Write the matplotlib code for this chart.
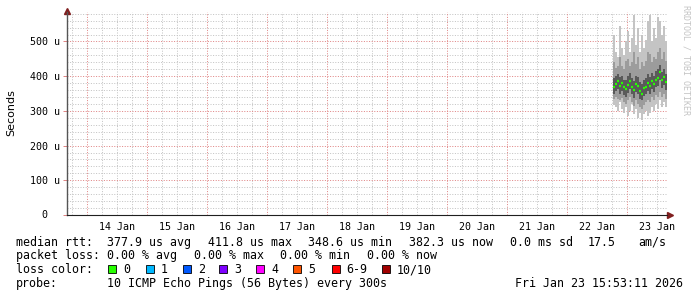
import numpy as np
import pandas as pd
import matplotlib
matplotlib.use('Agg')
import matplotlib.pyplot as plt
import matplotlib.dates as mdates
from matplotlib.patches import Rectangle

# smokeping data (values in microseconds), one column per 48 min
times = pd.date_range('2026-01-22 18:41', periods=27, freq='48min')
median = [370, 378, 385, 372, 380, 368, 362, 375, 385, 370, 360, 378, 372, 358,
          349, 365, 370, 380, 372, 385, 378, 390, 395, 412, 388, 398, 382]
smoke_max = [520, 470, 455, 545, 480, 460, 500, 530, 470, 510, 575, 490, 540, 470,
             520, 480, 505, 560, 575, 500, 540, 510, 570, 560, 520, 545, 500]
smoke_min = [318, 310, 300, 325, 305, 295, 310, 285, 300, 320, 290, 305, 280, 295,
             275, 290, 300, 285, 295, 310, 300, 320, 305, 330, 310, 325, 310]
mid_hi = [440, 425, 430, 455, 430, 420, 445, 450, 430, 440, 470, 435, 455, 420,
          440, 430, 445, 470, 465, 440, 455, 450, 470, 480, 450, 470, 445]
mid_lo = [335, 340, 335, 330, 338, 325, 320, 330, 340, 325, 315, 330, 320, 310,
          305, 318, 325, 330, 325, 340, 330, 345, 340, 355, 340, 350, 335]
inner_hi = [395, 400, 405, 398, 402, 390, 388, 400, 410, 395, 385, 402, 398, 382,
            378, 390, 395, 405, 398, 410, 402, 415, 420, 432, 412, 420, 405]
inner_lo = [350, 358, 362, 350, 358, 345, 340, 352, 362, 348, 338, 355, 348, 335,
            330, 342, 348, 358, 350, 362, 355, 368, 372, 388, 365, 375, 360]

yticks = [0, 100, 200, 300, 400, 500]
ylabels = ['', '100 u', '200 u', '300 u', '400 u', '500 u']

loss_labels = ['0', '1', '2', '3', '4', '5', '6-9', '10/10']
loss_colors = ['#26ff00', '#00b8ff', '#0059ff', '#7e00ff', '#ff00ff', '#ff5500', '#ff0000', '#a10000']

t_start = pd.Timestamp('2026-01-13 15:53:11')
t_end = pd.Timestamp('2026-01-23 15:53:11')

W, H = 697, 297
mono = 'DejaVu Sans Mono'
grid_c = '#c4c4c4'
mgrid_c = '#e08585'
dots = (0, (1, 1.6))
arrow_c = '#801f1f'

fig = plt.figure(figsize=(W / 100, H / 100), dpi=100)
fig.patch.set_facecolor('white')
ax = fig.add_axes([67 / W, 1 - 215 / H, 600 / W, 203 / H])

x = mdates.date2num(times.to_pydatetime())
w = 48 / 1440
med = np.array(median)

ax.bar(x, np.array(smoke_max) - np.array(smoke_min), bottom=smoke_min, width=w,
       color='#c4c4c4', linewidth=0, zorder=3)
ax.bar(x, np.array(mid_hi) - np.array(mid_lo), bottom=mid_lo, width=w,
       color='#9c9c9c', linewidth=0, zorder=3)
ax.bar(x, np.array(inner_hi) - np.array(inner_lo), bottom=inner_lo, width=w,
       color='#5a5a5a', linewidth=0, zorder=3)
ax.hlines(med, x - w / 2, x + w / 2, color=loss_colors[0], lw=1.6, zorder=4)

ax.set_xlim(mdates.date2num(t_start.to_pydatetime()), mdates.date2num(t_end.to_pydatetime()))
ax.set_ylim(0, 585)

# x: labels at noon, grey grid every 6h, red grid at midnight
ax.xaxis.set_major_locator(mdates.HourLocator(byhour=[12]))
ax.xaxis.set_major_formatter(mdates.DateFormatter('%d %b'))
ax.xaxis.set_minor_locator(mdates.HourLocator(byhour=[6, 12, 18]))
ax.xaxis.remove_overlapping_locs = False
ax.tick_params(axis='x', which='major', length=0, pad=5, labelsize=7.2)
ax.tick_params(axis='x', which='minor', length=0)
ax.grid(True, axis='x', which='minor', color=grid_c, lw=0.72, ls=dots, zorder=1)
for d in pd.date_range('2026-01-14', '2026-01-23', freq='D'):
    ax.axvline(mdates.date2num(d.to_pydatetime()), color=mgrid_c, lw=0.72, ls=dots, zorder=2)

# y: red grid every 100u, grey every 20u
ax.set_yticks(yticks)
ax.set_yticklabels(ylabels)
ax.set_yticks([v for v in range(20, 585, 20) if v % 100], minor=True)
ax.tick_params(axis='y', which='major', length=3, width=0.72, color=mgrid_c, pad=2, labelsize=7.2)
ax.tick_params(axis='y', which='minor', length=0)
ax.grid(True, axis='y', which='minor', color=grid_c, lw=0.72, ls=dots, zorder=1)
ax.grid(True, axis='y', which='major', color=mgrid_c, lw=0.72, ls=dots, zorder=2)
for lab in ax.get_xticklabels() + ax.get_yticklabels():
    lab.set_family(mono)
ax.annotate('0', xy=(0, 0), xycoords=('axes fraction', 'data'), xytext=(-20, 0),
            textcoords='offset pixels', ha='right', va='center', fontsize=7.2, family=mono)

ax.spines['top'].set_visible(False)
ax.spines['right'].set_visible(False)
ax.spines['left'].set_color('#555555')
ax.spines['bottom'].set_color('#1f1f1f')
ax.spines['left'].set_linewidth(1.0)
ax.spines['bottom'].set_linewidth(0.8)
ax.plot([0], [1.005], marker='^', ms=4, color=arrow_c, transform=ax.transAxes, clip_on=False)
ax.plot([1.005], [0], marker='>', ms=4, color=arrow_c, transform=ax.transAxes, clip_on=False)

fig.text(11 / W, 1 - 113 / H, 'Seconds', rotation=90, ha='center', va='center', fontsize=8)
fig.text(686 / W, 1 - 5 / H, 'RRDTOOL / TOBI OETIKER', rotation=270, ha='center', va='top',
         color='#c4c4c4', fontsize=6, family=mono)


def ftext(px, py, s, **kw):
    fig.text(px / W, 1 - py / H, s, fontsize=8.4, family=mono, va='baseline', **kw)


row1 = [(16, 'median rtt:'), (107, '377.9 us avg'), (207.6, '411.8 us max'),
        (308, '348.6 us min'), (409, '382.3 us now'), (510, '0.0 ms sd'),
        (588, '17.5'), (638, 'am/s')]
for px, s in row1:
    ftext(px, 245.7, s)
row2 = [(16, 'packet loss:'), (107, '0.00 % avg'), (194, '0.00 % max'),
        (280, '0.00 % min'), (366.5, '0.00 % now')]
for px, s in row2:
    ftext(px, 259.3, s)

ftext(16, 273.3, 'loss color:')
sw_x = [108.3, 145.7, 182.7, 219.3, 256.3, 293.3, 331.5, 381.7]
for sx, lab, col in zip(sw_x, loss_labels, loss_colors):
    fig.patches.append(Rectangle((sx / W, 1 - 273.3 / H), 8 / W, 8 / H, transform=fig.transFigure,
                                 facecolor=col, edgecolor='black', lw=0.6))
    ftext(sx + 15, 273.3, lab)

ftext(16, 287.3, 'probe:')
ftext(107, 287.3, '10 ICMP Echo Pings (56 Bytes) every 300s')
ftext(683, 287.3, 'Fri Jan 23 15:53:11 2026', ha='right')

fig.savefig('out.png', dpi=100)
